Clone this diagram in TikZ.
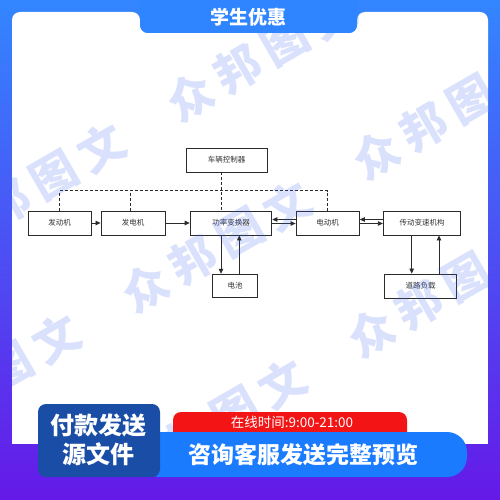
\documentclass[tikz,border=0pt]{standalone}
\usepackage{fontspec}
\newfontfamily\cjk{Noto Sans CJK SC}
\usetikzlibrary{arrows.meta,calc}
\definecolor{bgtop}{HTML}{3386FF}
\definecolor{bgbot}{HTML}{6519E8}
\definecolor{tabc}{HTML}{2F84FF}
\definecolor{boxc}{HTML}{2B2B2B}
\definecolor{txtc}{HTML}{333333}
\definecolor{wmc}{HTML}{3A62F0}
\definecolor{darkb}{HTML}{1A4EA6}
\definecolor{brightb}{HTML}{1A7BFF}
\definecolor{redc}{HTML}{F31515}
\begin{document}
\begin{tikzpicture}[x=1pt,y=-1pt,
  box/.style={draw=boxc, line width=0.9pt, fill=white, minimum height=24pt, inner sep=0pt,
    font=\cjk\fontsize{7.5}{8}\selectfont, text=txtc},
  arr/.style={-{Triangle[length=5pt,width=4.5pt]}, line width=0.8pt, draw=boxc},
  dsh/.style={dash pattern=on 3pt off 2pt, line width=0.8pt, draw=boxc},
  wm/.style={font=\cjk\bfseries\fontsize{46}{46}\selectfont, text=wmc, text opacity=0.19, inner sep=0pt}]
\useasboundingbox (0,0) rectangle (500,500);
% background
\shade[top color=bgtop, bottom color=bgbot] (0,0) rectangle (500,500);
% card
\fill[white, rounded corners=8pt] (12,120) -- (12,12) -- (140,12) -- (140,33) -- (357,33) -- (357,12) -- (488,12) -- (488,120) -- cycle;
\fill[white] (12,100) rectangle (488,444);

% diagram
\node[box, minimum width=81pt] (ctrl) at (226.5,160) {车辆控制器};
\node[box, minimum width=62.7pt] (eng) at (59.7,223) {发动机};
\node[box, minimum width=64pt] (gen) at (133,223) {发电机};
\node[box, minimum width=81.7pt] (pc) at (231,223) {功率变换器};
\node[box, minimum width=63.3pt] (mot) at (327.7,223) {电动机};
\node[box, minimum width=77.4pt] (trans) at (422,223) {传动变速机构};
\node[box, minimum width=45.4pt, minimum height=23.6pt] (bat) at (235,286) {电池};
\node[box, minimum width=72.4pt] (road) at (420.5,286) {道路负载};

\coordinate (d0) at (221,190.7);
\coordinate (d1) at (239.3,0);
\coordinate (d2) at (411.7,0);
\coordinate (d3) at (439,0);
\coordinate (dg) at (130.7,0);

\draw[dsh] (ctrl.south -| d0) -- (pc.north -| d0);
\draw[dsh] (eng.north) -- (eng.north |- d0) -- (mot.north |- d0) -- (mot.north);
\draw[dsh] (gen.north -| dg) -- (d0 -| dg);

\draw[arr] (eng.east) -- (gen.west);
\draw[arr] (gen.east) -- (pc.west);
\draw[arr] ([yshift=3.5pt]mot.west) -- ([yshift=3.5pt]pc.east);
\draw[arr] ([yshift=-0.5pt]pc.east) -- ([yshift=-0.5pt]mot.west);
\draw[arr] ([yshift=3.5pt]trans.west) -- ([yshift=3.5pt]mot.east);
\draw[arr] ([yshift=-0.5pt]mot.east) -- ([yshift=-0.5pt]trans.west);
\draw[arr] (pc.south -| d0) -- (bat.north -| d0);
\draw[arr] (bat.north -| d1) -- (pc.south -| d1);
\draw[arr] (trans.south -| d2) -- (road.north -| d2);
\draw[arr] (road.north -| d3) -- (trans.south -| d3);

% watermarks
\begin{scope}
\clip (12,12) rectangle (488,444);
\foreach \x/\y in {190/97, 145/288, 371/333} {
  \foreach \k in {-2,-1,0,1} {
    \foreach \c [count=\i from 0] in {众,邦,图,文} {
      \node[wm, rotate=30] at ({\x + (\k*267 + \i*55)*0.866}, {\y - (\k*267 + \i*55)*0.5}) {\c};
    }
  }
}
\end{scope}

% top tab
\fill[tabc, rounded corners=8pt] (140,-10) -- (140,33) -- (357,33) -- (357,-10) -- cycle;
\node[font=\cjk\bfseries\fontsize{19}{19}\selectfont, text=white] (tabtxt) at (248,17) {学生优惠};

% bottom banner
\fill[redc, rounded corners=8pt] (173,412) rectangle (407,442);
\node[font=\cjk\fontsize{13.5}{14}\selectfont, text=white] (online) at (292,422) {在线时间:9:00-21:00};
\fill[brightb, rounded corners=20pt] (140,432) rectangle (467,477);
\node[font=\cjk\bfseries\fontsize{23}{23}\selectfont, text=white] (consult) at (303,455) {咨询客服发送完整预览};
\fill[darkb, rounded corners=8pt] (38,404) rectangle (160,477);
\node[font=\cjk\bfseries\fontsize{24}{29}\selectfont, text=white, align=center] (pay) at (98,440) {付款发送\\源文件};
\end{tikzpicture}
\end{document}
